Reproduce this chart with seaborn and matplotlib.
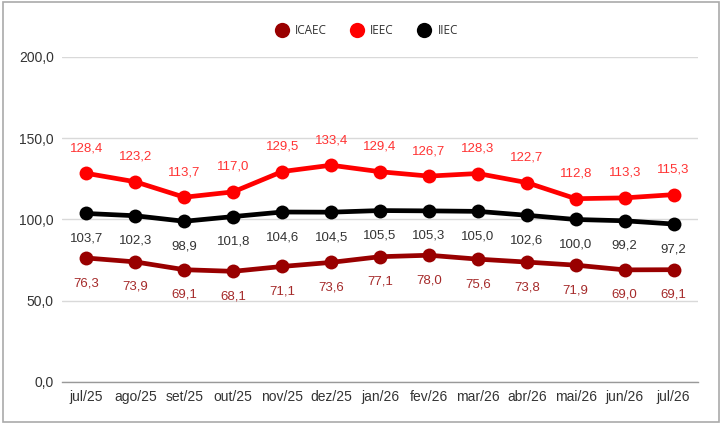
import matplotlib
matplotlib.use('Agg')
import matplotlib.pyplot as plt
import pandas as pd
import seaborn as sns
from matplotlib.patches import Rectangle

# Data
months = ['jul/25', 'ago/25', 'set/25', 'out/25', 'nov/25', 'dez/25', 'jan/26',
          'fev/26', 'mar/26', 'abr/26', 'mai/26', 'jun/26', 'jul/26']
icaec = [76.3, 73.9, 69.1, 68.1, 71.1, 73.6, 77.1, 78.0, 75.6, 73.8, 71.9, 69.0, 69.1]
ieec = [128.4, 123.2, 113.7, 117.0, 129.5, 133.4, 129.4, 126.7, 128.3, 122.7, 112.8, 113.3, 115.3]
iiec = [103.7, 102.3, 98.9, 101.8, 104.6, 104.5, 105.5, 105.3, 105.0, 102.6, 100.0, 99.2, 97.2]
y_ticks = [0, 50, 100, 150, 200]

sns.set_style('white')
plt.rcParams['font.family'] = ['Liberation Sans', 'DejaVu Sans']

df = pd.DataFrame({'mes': range(len(months)), 'ICAEC': icaec, 'IEEC': ieec, 'IIEC': iiec})
series = [('ICAEC', '#990000', '#a52a2a', 1), ('IEEC', '#ff0000', '#ff3333', -1),
          ('IIEC', '#000000', '#333333', 1)]

fig = plt.figure(figsize=(7.22, 4.25), dpi=100)
ax = fig.add_axes([0.0859, 0.1012, 0.8809, 0.7647])

for name, color, lcolor, side in series:
    sns.lineplot(data=df, x='mes', y=name, ax=ax, color=color, linewidth=3.4,
                 marker='o', markersize=10, markeredgewidth=0, label=name, zorder=3)
    for i, v in enumerate(df[name]):
        ax.annotate(f'{v:.1f}'.replace('.', ','), (i, v), xytext=(0, -18 * side),
                    textcoords='offset points', ha='center', va='center',
                    fontsize=9.5, color=lcolor, zorder=4)

ax.set_xlim(-0.5, len(months) - 0.5)
ax.set_ylim(0, 200)
ax.set_yticks(y_ticks)
ax.set_yticklabels([f'{t:.1f}'.replace('.', ',') for t in y_ticks])
ax.set_xticks(range(len(months)))
ax.set_xticklabels(months)
ax.tick_params(axis='both', length=0, labelsize=10, colors='#333333', pad=6)
ax.set_xlabel('')
ax.set_ylabel('')
ax.grid(axis='y', color='#d9d9d9', linewidth=1)
ax.set_axisbelow(True)
for s in ['top', 'right', 'left']:
    ax.spines[s].set_visible(False)
ax.spines['bottom'].set_color('#999999')
ax.spines['bottom'].set_linewidth(1)

handles, labels = ax.get_legend_handles_labels()
ax.legend(handles, labels, loc='center', bbox_to_anchor=(0.512, 0.929), bbox_transform=fig.transFigure,
          ncol=3, frameon=False, handlelength=0, handletextpad=1.1,
          columnspacing=2.6, prop={'family': 'Open Sans', 'size': 8.5})
for h in ax.get_legend().legend_handles:
    h.set_linestyle('')
    h.set_markersize(11)
for t in ax.get_legend().get_texts():
    t.set_color('#333333')

fig.patches.append(Rectangle((0.004, 0.007), 0.992, 0.988, transform=fig.transFigure,
                             fill=False, edgecolor='#aaaaaa', linewidth=1.2))

fig.savefig('out.png', dpi=100)
